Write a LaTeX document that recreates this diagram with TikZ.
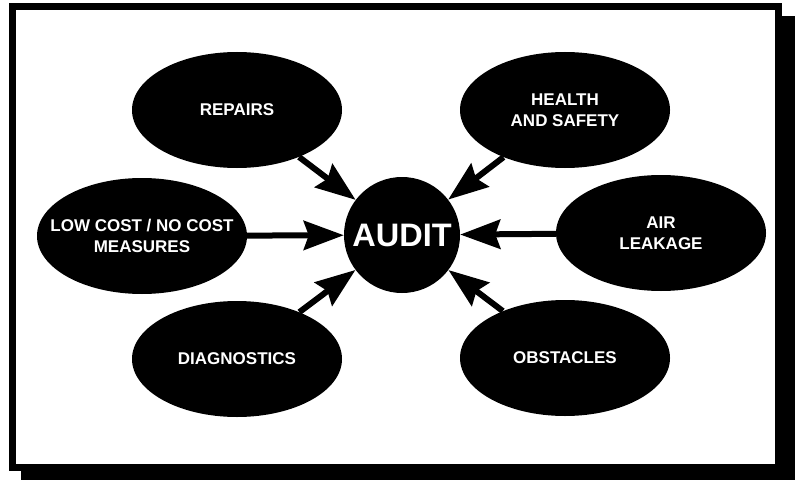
\documentclass[tikz,border=0pt]{standalone}
\usepackage{fontspec}
\setmainfont{Liberation Sans}
\usepackage{tikz}
\usetikzlibrary{arrows.meta,shapes.geometric}

\begin{document}
\begin{tikzpicture}[x=1pt, y=-1pt,
  bubble/.style={ellipse, fill=black, text=white, inner sep=0pt,
    minimum width=210pt, minimum height=116pt, align=center,
    font=\fontsize{17}{21}\selectfont\bfseries},
  hub/.style={circle, fill=black, text=white, inner sep=0pt,
    minimum size=116pt, font=\fontsize{32.5}{36}\selectfont\bfseries},
  feed/.style={line width=6pt, -{Stealth[length=40pt, width=29pt, inset=5pt]}}]
\useasboundingbox (0,0) rectangle (799,481);
% frame with shadow
\fill[black] (21,16) rectangle (795,480);
\draw[line width=7pt, fill=white] (12,6.5) rectangle (778.5,467.5);
% hub and topics
\node[hub] (audit) at (402,235) {AUDIT};
\node[bubble] (repairs) at (237,110) {REPAIRS};
\node[bubble] (health) at (565,110) {HEALTH\\AND SAFETY};
\node[bubble, inner xsep=-25pt] (lowcost) at (142,236) {LOW COST / NO COST\\MEASURES};
\node[bubble] (air) at (661,233) {AIR\\LEAKAGE};
\node[bubble] (diag) at (237,359) {DIAGNOSTICS};
\node[bubble] (obst) at (565,358) {OBSTACLES};
% arrows into the hub
\foreach \src in {repairs,health,lowcost,air,diag,obst}
  \draw[feed] (\src) -- (audit);
\end{tikzpicture}
\end{document}
